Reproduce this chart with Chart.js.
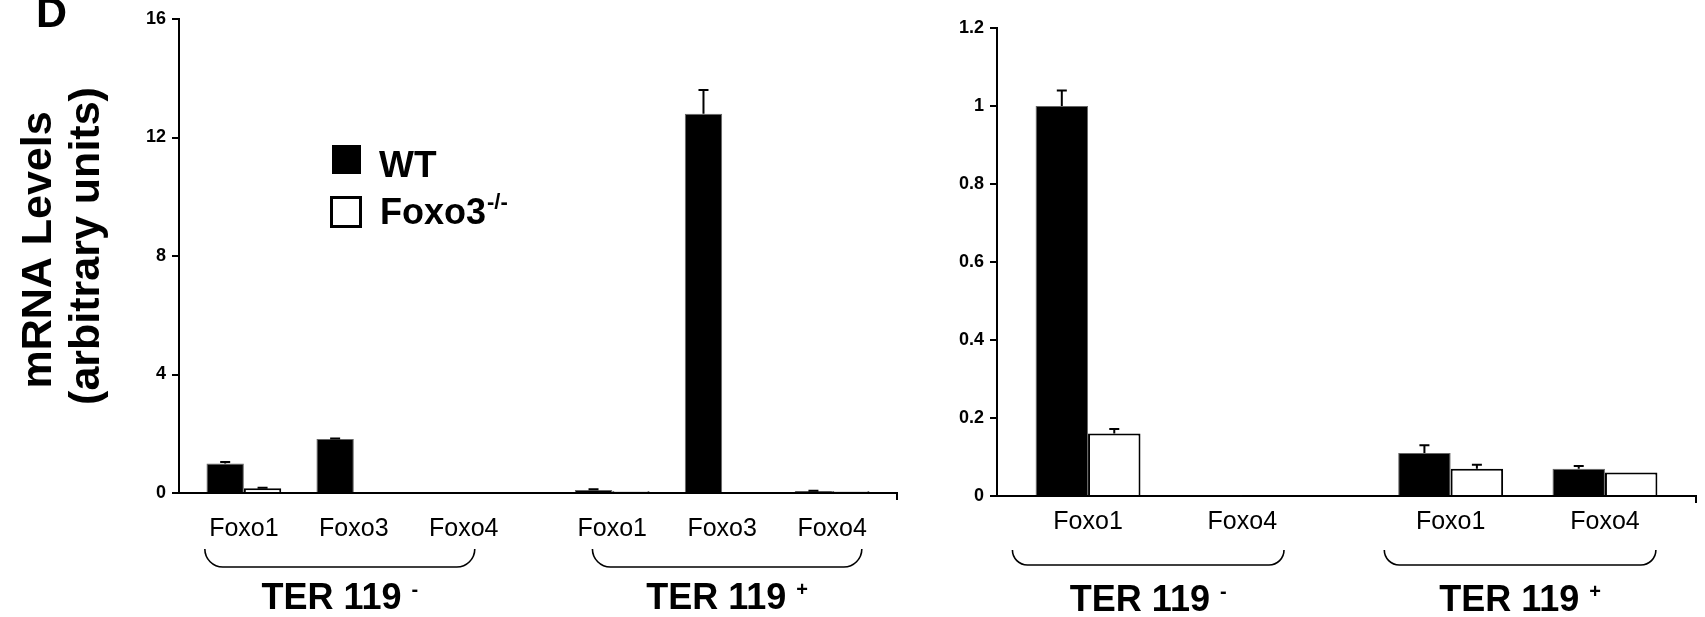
<!DOCTYPE html>
<html>
<head>
<meta charset="utf-8">
<script src="https://cdn.jsdelivr.net/npm/chart.js@4.4.0/dist/chart.umd.min.js"></script>
<style>
  html, body { margin: 0; padding: 0; background: #fff; }
  #wrap { position: relative; width: 1705px; height: 617px; overflow: hidden; }
  canvas { position: absolute; top: 0; }
</style>
</head>
<body>
<div id="wrap">
  <canvas id="leftChart" width="905" height="617" style="left:0"></canvas>
  <canvas id="rightChart" width="800" height="617" style="left:905px"></canvas>
</div>
<script>
// --- Datos ---
const leftCats = ['Foxo1', 'Foxo3', 'Foxo4', 'Foxo1', 'Foxo3', 'Foxo4'];
const leftWT = [1.0, 1.82, 0, 0.10, 12.8, 0.07];
const leftKO = [0.16, 0.03, 0, 0.06, 0.03, 0.06];
const leftWTErr = [0.05, 0.02, 0, 0.03, 0.8, 0.01];
const leftKOErr = [0.02, 0, 0, 0, 0, 0];
const leftYTicks = [0, 4, 8, 12, 16];

const rightCats = ['Foxo1', 'Foxo4', 'Foxo1', 'Foxo4'];
const rightWT = [1.0, 0.002, 0.11, 0.07];
const rightKO = [0.16, 0.002, 0.07, 0.06];
const rightWTErr = [0.04, 0, 0.02, 0.007];
const rightKOErr = [0.012, 0, 0.01, 0];
const rightYTicks = [0, 0.2, 0.4, 0.6, 0.8, 1, 1.2];

const groupNames = ['TER 119', 'TER 119'];
const groupSigns = ['-', '+'];
const seriesNames = ['WT', 'Foxo3'];
const koSup = '-/-';

const FONT = '"Liberation Sans", Arial, Helvetica, sans-serif';

// posiciones de categoría: grupos separados por un hueco
function catPositions(sizes, gap) {
    const xs = []; let x = 0;
    sizes.forEach(n => {
        for (let i = 0; i < n; i++) { xs.push(x); x += 1; }
        x += gap - 1;
    });
    return xs;
}
const leftX = catPositions([3, 3], 1.35);
const rightX = catPositions([2, 2], 1.35);

// --- Plugin: barras de error (solo hacia arriba) ---
const errorBars = {
    id: 'errorBars',
    afterDatasetsDraw(chart) {
        const ctx = chart.ctx;
        const y = chart.scales.y;
        chart.data.datasets.forEach((ds, i) => {
            if (!ds.errors) return;
            const meta = chart.getDatasetMeta(i);
            meta.data.forEach((bar, j) => {
                const e = ds.errors[j];
                if (!e) return;
                const top = y.getPixelForValue(ds.data[j].y + e);
                ctx.save();
                ctx.strokeStyle = '#000';
                ctx.lineWidth = 2;
                ctx.beginPath();
                ctx.moveTo(bar.x, bar.y);
                ctx.lineTo(bar.x, top);
                ctx.moveTo(bar.x - 5, top);
                ctx.lineTo(bar.x + 5, top);
                ctx.stroke();
                ctx.restore();
            });
        });
    }
};

// --- Plugin: llaves, etiquetas de grupo, leyenda y títulos ---
const decorations = {
    id: 'decorations',
    afterDraw(chart, args, opts) {
        const ctx = chart.ctx;
        const x = chart.scales.x;
        const area = chart.chartArea;
        ctx.save();
        ctx.fillStyle = '#000';
        ctx.strokeStyle = '#000';

        // tick final del eje x
        ctx.lineWidth = 2;
        ctx.beginPath();
        ctx.moveTo(area.right, area.bottom);
        ctx.lineTo(area.right, area.bottom + 7);
        ctx.stroke();

        // llaves
        ctx.lineWidth = 1.6;
        opts.brackets.forEach(([a, b], g) => {
            const x1 = x.getPixelForValue(a), x2 = x.getPixelForValue(b);
            const t = opts.bracketTop, bt = opts.bracketBottom, r = bt - t, k = 0.552 * r;
            ctx.beginPath();
            ctx.moveTo(x1, t);
            ctx.bezierCurveTo(x1, t + k, x1 + r - k, bt, x1 + r, bt);
            ctx.lineTo(x2 - r, bt);
            ctx.bezierCurveTo(x2 - r + k, bt, x2, t + k, x2, t);
            ctx.stroke();

            // etiqueta del grupo con superíndice
            const cx = (x1 + x2) / 2;
            ctx.font = 'bold 36px ' + FONT;
            const main = groupNames[g] + ' ';
            const wMain = ctx.measureText(main).width;
            ctx.font = 'bold 20px ' + FONT;
            const wSup = ctx.measureText(groupSigns[g]).width;
            const sx = cx - (wMain + wSup) / 2;
            ctx.textAlign = 'left';
            ctx.textBaseline = 'alphabetic';
            ctx.font = 'bold 36px ' + FONT;
            ctx.fillText(main, sx, opts.groupBaseline);
            ctx.font = 'bold 20px ' + FONT;
            ctx.fillText(groupSigns[g], sx + wMain, opts.groupBaseline - 13);
        });

        if (opts.legend) {
            // leyenda
            ctx.fillRect(332, 145, 29, 29);
            ctx.lineWidth = 3;
            ctx.strokeRect(331.5, 197.5, 29, 29);
            ctx.textAlign = 'left';
            ctx.textBaseline = 'alphabetic';
            ctx.font = 'bold 37px ' + FONT;
            ctx.fillText(seriesNames[0], 379, 177);
            ctx.font = 'bold 36px ' + FONT;
            ctx.fillText(seriesNames[1], 380, 224);
            const w = ctx.measureText(seriesNames[1]).width;
            ctx.font = 'bold 22px ' + FONT;
            ctx.fillText(koSup, 380 + w + 1, 209);

            // letra del panel
            ctx.font = 'bold 43px ' + FONT;
            ctx.fillText('D', 36, 27);

            // título del eje y
            ctx.font = 'bold 43px ' + FONT;
            ctx.textAlign = 'center';
            ctx.save();
            ctx.translate(51, 250);
            ctx.rotate(-Math.PI / 2);
            ctx.fillText('mRNA Levels', 0, 0);
            ctx.restore();
            ctx.save();
            ctx.translate(99, 246);
            ctx.rotate(-Math.PI / 2);
            ctx.fillText('(arbitrary units)', 0, 0);
            ctx.restore();
        }
        ctx.restore();
    }
};

function makeChart(id, cfg) {
    const pts = (vals) => vals.map((v, i) => ({ x: cfg.xs[i], y: v }));
    return new Chart(document.getElementById(id), {
        type: 'bar',
        data: {
            datasets: [{
                label: seriesNames[0],
                data: pts(cfg.wt),
                errors: cfg.wtErr,
                backgroundColor: '#000',
                borderColor: '#666',
                borderWidth: 1
            }, {
                label: seriesNames[1],
                data: pts(cfg.ko),
                errors: cfg.koErr,
                backgroundColor: '#fff',
                borderColor: '#000',
                borderWidth: 2
            }]
        },
        options: {
            responsive: false,
            animation: false,
            devicePixelRatio: 1,
            categoryPercentage: 0.68,
            barPercentage: 1.0,
            layout: { padding: cfg.padding },
            plugins: {
                legend: { display: false },
                tooltip: { enabled: false },
                decorations: cfg.deco
            },
            scales: {
                x: {
                    type: 'linear',
                    offset: false,
                    min: cfg.xs[0] - 0.59,
                    max: cfg.xs[cfg.xs.length - 1] + 0.59,
                    grid: { display: false },
                    border: { display: true, color: '#000', width: 2 },
                    afterBuildTicks: s => { s.ticks = cfg.xs.map(v => ({ value: v })); },
                    afterFit: s => { s.height = cfg.xHeight; },
                    ticks: {
                        autoSkip: false, maxRotation: 0, minRotation: 0,
                        padding: cfg.xPad,
                        color: '#000',
                        font: { family: FONT, size: 25 },
                        callback: (v, i) => cfg.cats[i]
                    }
                },
                y: {
                    min: 0,
                    max: cfg.yTicks[cfg.yTicks.length - 1],
                    grid: { display: true, drawOnChartArea: false, drawTicks: true, tickLength: 7, color: '#000', lineWidth: 2 },
                    border: { display: true, color: '#000', width: 2 },
                    afterBuildTicks: s => { s.ticks = cfg.yTicks.map(v => ({ value: v })); },
                    afterFit: s => { s.width = cfg.yWidth; },
                    ticks: {
                        padding: 6,
                        color: '#000',
                        font: { family: FONT, size: 18, weight: 'bold' },
                        callback: v => String(v)
                    }
                }
            }
        },
        plugins: [errorBars, decorations]
    });
}

makeChart('leftChart', {
    xs: leftX, cats: leftCats, wt: leftWT, ko: leftKO, wtErr: leftWTErr, koErr: leftKOErr,
    yTicks: leftYTicks, yWidth: 179, xHeight: 124, xPad: 13,
    padding: { top: 19, right: 8, left: 0, bottom: 0 },
    deco: {
        brackets: [[-0.355, 2.1], [3.17, 5.62]],
        bracketTop: 549, bracketBottom: 567, groupBaseline: 609, legend: true
    }
});

makeChart('rightChart', {
    xs: rightX, cats: rightCats, wt: rightWT, ko: rightKO, wtErr: rightWTErr, koErr: rightKOErr,
    yTicks: rightYTicks, yWidth: 92, xHeight: 121, xPad: 3,
    padding: { top: 28, right: 9, left: 0, bottom: 0 },
    deco: {
        brackets: [[-0.49, 1.27], [1.92, 3.68]],
        bracketTop: 550, bracketBottom: 565, groupBaseline: 611, legend: false
    }
});
</script>
</body>
</html>
